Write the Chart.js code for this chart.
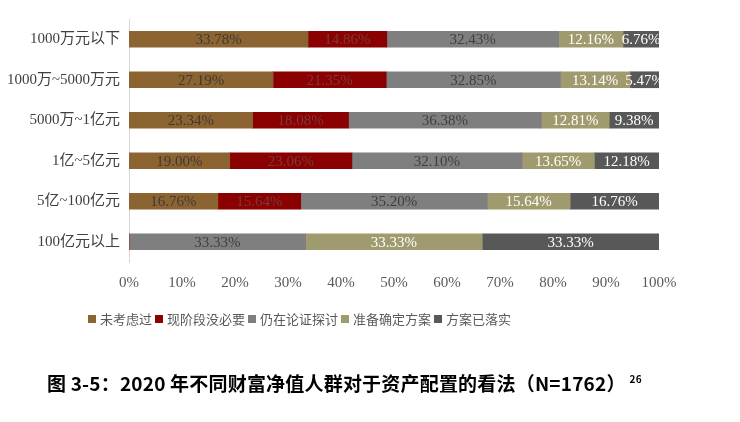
<!DOCTYPE html>
<html>
<head>
<meta charset="utf-8">
<script src="https://cdn.jsdelivr.net/npm/chart.js@4/dist/chart.umd.min.js"></script>
<style>
	html, body { margin: 0; padding: 0; background: #fff; }
	#wrapper { position: relative; width: 740px; height: 422px; }
	#legend { position: absolute; left: 88px; top: 309px; font: 13px "Noto Sans CJK SC", sans-serif; color: #595959; white-space: nowrap; }
	#legend span.box { display: inline-block; width: 8px; height: 8px; margin-right: 4px; vertical-align: 1px; }
	#legend span.item { margin-right: 3px; }
	#caption { position: absolute; left: 47px; top: 369px; font: bold 19px "Noto Sans CJK SC", sans-serif; color: #000; white-space: nowrap; letter-spacing: 0.2px; }
	#caption sup { font-size: 10px; vertical-align: 8px; margin-left: 4px; }
</style>
</head>
<body>
<div id="wrapper">
	<canvas id="chart" width="740" height="422"></canvas>
	<div id="legend"></div>
	<div id="caption">图 3-5：2020 年不同财富净值人群对于资产配置的看法（N=1762）<sup>26</sup></div>
</div>
<script>
"use strict";

const categories = ["1000万元以下", "1000万~5000万元", "5000万~1亿元", "1亿~5亿元", "5亿~100亿元", "100亿元以上"];
const seriesNames = ["未考虑过", "现阶段没必要", "仍在论证探讨", "准备确定方案", "方案已落实"];
const notConsidered = [33.78, 27.19, 23.34, 19.00, 16.76, 0];
const notNecessary = [14.86, 21.35, 18.08, 23.06, 15.64, 0];
const discussing = [32.43, 32.85, 36.38, 32.10, 35.20, 33.33];
const preparing = [12.16, 13.14, 12.81, 13.65, 15.64, 33.33];
const implemented = [6.76, 5.47, 9.38, 12.18, 16.76, 33.33];
const xTicks = [0, 10, 20, 30, 40, 50, 60, 70, 80, 90, 100];

const colors = ["#8c6432", "#8b0000", "#7f7f7f", "#a09b6e", "#585858"];
const labelColors = ["#3f3a33", "#7a3a3a", "#404040", "#ffffff", "#ffffff"];
const seriesValues = [notConsidered, notNecessary, discussing, preparing, implemented];

// etichette dentro le barre
const barLabels = {
	id: "barLabels",
	afterDatasetsDraw(chart) {
		const ctx = chart.ctx;
		ctx.save();
		ctx.font = '15px "Liberation Serif", serif';
		ctx.textAlign = "center";
		ctx.textBaseline = "middle";
		chart.data.datasets.forEach(function (ds, i) {
			const meta = chart.getDatasetMeta(i);
			meta.data.forEach(function (bar, j) {
				const v = ds.data[j];
				if (!v) return;
				ctx.fillStyle = labelColors[i];
				ctx.fillText(v.toFixed(2) + "%", (bar.x + bar.base) / 2, bar.y + 1);
			});
		});
		ctx.restore();
	}
};

const datasets = seriesNames.map(function (name, i) {
	return {
		label: name,
		data: seriesValues[i],
		backgroundColor: colors[i],
		borderWidth: 0,
		barThickness: 16
	};
});

const chart = new Chart(document.getElementById("chart"), {
	type: "bar",
	data: { labels: categories, datasets: datasets },
	options: {
		indexAxis: "y",
		responsive: false,
		animation: false,
		layout: { padding: { top: 19, right: 81, bottom: 120, left: 0 } },
		plugins: {
			legend: { display: false },
			tooltip: { enabled: false }
		},
		scales: {
			x: {
				stacked: true,
				min: 0,
				max: 100,
				afterBuildTicks: function (scale) {
					scale.ticks = xTicks.map(v => ({ value: v }));
				},
				afterFit: function (scale) { scale.height = 40; },
				grid: { display: false, drawTicks: false },
				border: { display: false },
				ticks: {
					padding: 12,
					color: "#595959",
					font: { family: '"Liberation Serif", serif', size: 15 },
					callback: v => v + "%"
				}
			},
			y: {
				stacked: true,
				afterFit: function (scale) { scale.width = 129; },
				grid: { display: false, drawTicks: false },
				border: { display: true, color: "#d9d9d9", width: 1 },
				ticks: {
					padding: 9,
					color: "#404040",
					font: { family: '"Liberation Serif", "Noto Sans CJK SC", serif', size: 15 }
				}
			}
		}
	},
	plugins: [barLabels]
});

// legenda html
const legend = document.getElementById("legend");
seriesNames.forEach(function (name, i) {
	const item = document.createElement("span");
	item.className = "item";
	item.innerHTML = '<span class="box" style="background:' + colors[i] + '"></span>' + name;
	legend.appendChild(item);
});
</script>
</body>
</html>
